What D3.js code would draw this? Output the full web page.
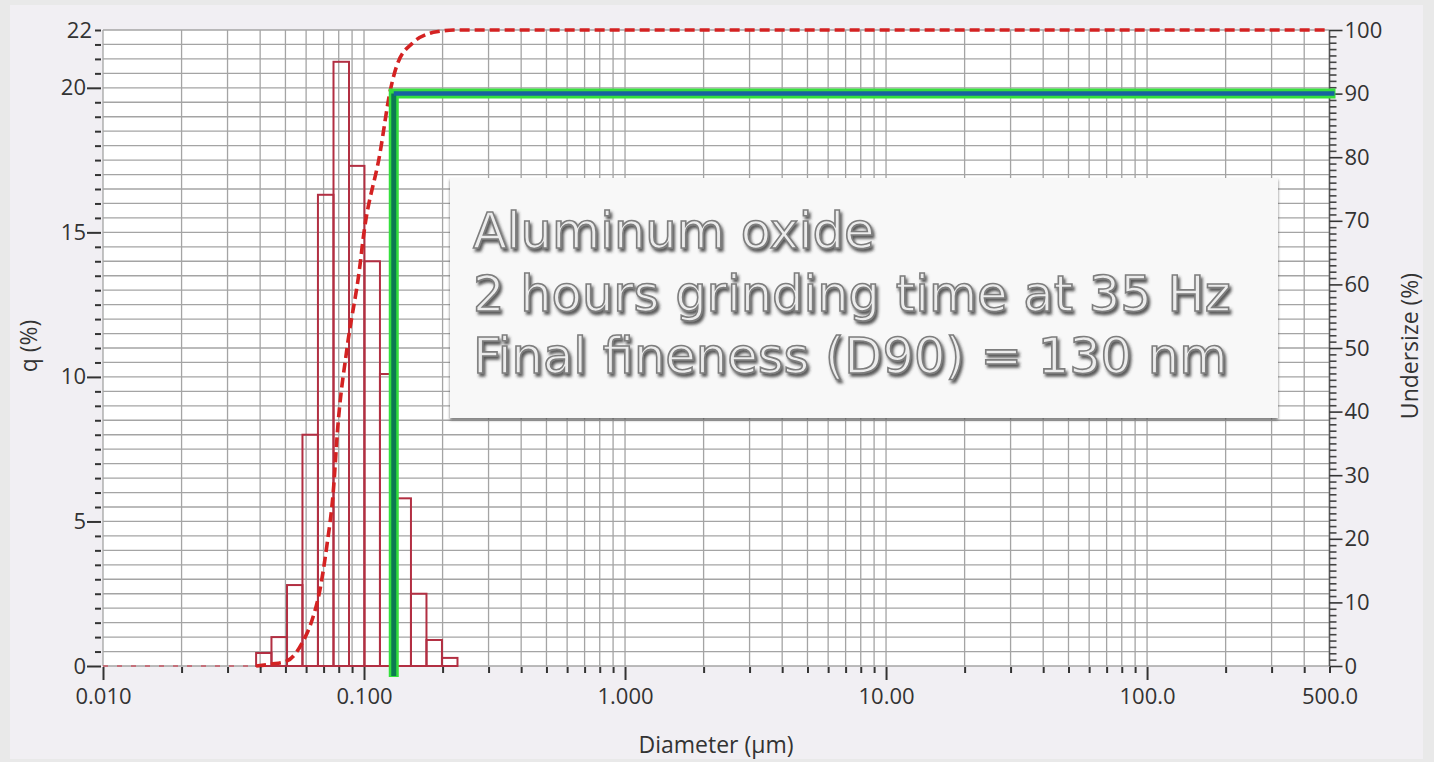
<!DOCTYPE html>
<html>
<head>
<meta charset="utf-8">
<script src="https://cdn.jsdelivr.net/npm/d3@7"></script>
<style>
  html, body { margin: 0; padding: 0; background: #e9e9e9; }
  svg { display: block; }
  .tick text { font-family: "Open Sans", sans-serif; fill: #333; }
</style>
</head>
<body>
<svg id="chart" width="1434" height="762"></svg>
<script>
// histogram bins (µm) and density q (%)
const binEdges = [0.0386, 0.0442, 0.0507, 0.0581, 0.0666, 0.0764, 0.0876, 0.1004, 0.1151, 0.1320, 0.1513, 0.1735, 0.1989, 0.2281];
const qValues = [0.45, 1.0, 2.8, 8.0, 16.3, 20.9, 17.3, 14.0, 10.1, 5.8, 2.5, 0.9, 0.28];

// cumulative undersize curve
const cumDiameter = [0.01, 0.035, 0.0386, 0.0442, 0.0507, 0.0579, 0.0632, 0.0678, 0.0721, 0.0761, 0.0795, 0.0861, 0.0965, 0.0991, 0.1152, 0.1258, 0.1338, 0.154, 0.179, 0.1955, 0.22, 500];
const cumUndersize = [0, 0, 0, 0.3, 0.8, 3.6, 7.2, 12, 19, 27, 38, 50, 63, 67, 80.7, 90.3, 94.5, 98, 99.5, 99.8, 100, 100];

const d90 = 0.13;
const d90Level = 90;

const xTickValues = [0.01, 0.1, 1, 10, 100, 500];
const xTickLabels = ["0.010", "0.100", "1.000", "10.00", "100.0", "500.0"];
const qTickValues = [0, 5, 10, 15, 20, 22];
const underTickValues = [0, 10, 20, 30, 40, 50, 60, 70, 80, 90, 100];

const noteLines = ["Aluminum oxide", "2 hours grinding time at 35 Hz", "Final fineness (D90) = 130 nm"];

const svg = d3.select("#chart");
const pL = 103, pR = 1329.5, pT = 30, pB = 666;

const x = d3.scaleLog().domain([0.01, 500]).range([pL, pR]);
const y = d3.scaleLinear().domain([0, 22]).range([pB, pT]);
const yR = d3.scaleLinear().domain([0, 100]).range([pB, pT]);

const defs = svg.append("defs");
const sh = defs.append("filter").attr("id", "txtShadow").attr("x", "-5%").attr("y", "-20%").attr("width", "110%").attr("height", "150%");
sh.append("feDropShadow").attr("dx", 2).attr("dy", 3).attr("stdDeviation", 1.8).attr("flood-color", "#333").attr("flood-opacity", 0.8);
const bsh = defs.append("filter").attr("id", "boxShadow").attr("x", "-5%").attr("y", "-5%").attr("width", "110%").attr("height", "115%");
bsh.append("feDropShadow").attr("dx", 0).attr("dy", 2).attr("stdDeviation", 1.5).attr("flood-color", "#555").attr("flood-opacity", 0.8);

// panel
svg.append("rect").attr("x", 10).attr("y", 5).attr("width", 1413).attr("height", 754).attr("fill", "#f1eff3");
svg.append("rect").attr("x", pL).attr("y", pT).attr("width", pR - pL).attr("height", pB - pT).attr("fill", "#fff");

// grid
const vGrid = [];
[0.01, 0.1, 1, 10, 100].forEach(d => { for (let k = 1; k <= 9; k++) { if (d * k <= 500) vGrid.push(d * k); } });
const hGrid = d3.range(0, 22.01, 0.5);

const grid = svg.append("g").attr("stroke", "#a4a4a4").attr("stroke-width", 1.3);
grid.selectAll("line.v").data(vGrid).join("line").attr("class", "v")
  .attr("x1", d => x(d)).attr("x2", d => x(d)).attr("y1", pT).attr("y2", pB);
grid.selectAll("line.h").data(hGrid).join("line").attr("class", "h")
  .attr("x1", pL).attr("x2", pR).attr("y1", d => y(d)).attr("y2", d => y(d));

// histogram
const bins = qValues.map((q, i) => ({ x0: binEdges[i], x1: binEdges[i + 1], q: q }));
svg.append("g").selectAll("rect").data(bins).join("rect")
  .attr("x", d => x(d.x0)).attr("width", d => x(d.x1) - x(d.x0))
  .attr("y", d => y(d.q)).attr("height", d => y(0) - y(d.q))
  .attr("fill", "none").attr("stroke", "#b22f42").attr("stroke-width", 2);

// cumulative curve: flat lead-in drawn fainter, rising part bold dashed
const cum = cumDiameter.map((d, i) => [d, cumUndersize[i]]);
const cumLine = d3.line().x(d => x(d[0])).y(d => yR(d[1])).curve(d3.curveMonotoneX);
svg.append("path").datum(cum.filter(d => d[0] <= 0.0386))
  .attr("d", cumLine)
  .attr("fill", "none").attr("stroke", "#c4707a").attr("stroke-width", 2).attr("stroke-dasharray", "5,9");
svg.append("path").datum(cum.filter(d => d[0] >= 0.0386))
  .attr("d", cumLine)
  .attr("fill", "none").attr("stroke", "#d42222").attr("stroke-width", 3.6).attr("stroke-dasharray", "10,5");

// axes
const xAxis = svg.append("g").attr("transform", `translate(0,${pB + 1})`)
  .call(d3.axisBottom(x).tickValues(xTickValues).tickSize(13).tickPadding(8).tickFormat((d, i) => xTickLabels[i]));
xAxis.select(".domain").remove();
xAxis.selectAll(".tick line").attr("stroke", "#333").attr("stroke-width", 2);
xAxis.selectAll(".tick").filter(d => d === 500).select("line").attr("y2", 6);
xAxis.selectAll("text").style("font-size", "22px");

const xMinor = svg.append("g").attr("transform", `translate(0,${pB + 1})`)
  .call(d3.axisBottom(x).tickValues(vGrid.filter(d => xTickValues.indexOf(d) < 0)).tickSize(6).tickFormat(""));
xMinor.select(".domain").remove();
xMinor.selectAll(".tick line").attr("stroke", "#333").attr("stroke-width", 2);

const yAxis = svg.append("g").attr("transform", `translate(${pL - 2},0)`)
  .call(d3.axisLeft(y).tickValues(qTickValues).tickSize(14).tickPadding(1));
yAxis.select(".domain").remove();
yAxis.selectAll(".tick line").attr("stroke", "#333").attr("stroke-width", 2);
yAxis.selectAll(".tick").filter(d => d === 22).select("line").attr("x2", -6);
yAxis.selectAll(".tick").filter(d => d === 22).select("text").attr("x", -9);
yAxis.selectAll("text").style("font-size", "22px");

const yMinor = svg.append("g").attr("transform", `translate(${pL - 2},0)`)
  .call(d3.axisLeft(y).tickValues(hGrid.filter(d => qTickValues.indexOf(d) < 0)).tickSize(6).tickFormat(""));
yMinor.select(".domain").remove();
yMinor.selectAll(".tick line").attr("stroke", "#333").attr("stroke-width", 2);

const yRAxis = svg.append("g").attr("transform", `translate(${pR},0)`)
  .call(d3.axisRight(yR).tickValues(underTickValues).tickSize(13).tickPadding(2));
yRAxis.select(".domain").attr("stroke", "#555").attr("stroke-width", 1.5).attr("d", `M0,${pB}V${pT}`);
yRAxis.selectAll(".tick line").attr("stroke", "#333").attr("stroke-width", 1.6);
yRAxis.selectAll("text").style("font-size", "22px");

const yRMinor = svg.append("g").attr("transform", `translate(${pR},0)`)
  .call(d3.axisRight(yR).tickValues(d3.range(0, 101, 1).filter(d => d % 10 !== 0)).tickSize(7).tickFormat(""));
yRMinor.select(".domain").remove();
yRMinor.selectAll(".tick line").attr("stroke", "#444").attr("stroke-width", 1.6);

// axis titles
const titleFont = { family: "Open Sans, sans-serif", size: "23px" };
svg.append("text").attr("x", 716).attr("y", 753).attr("text-anchor", "middle")
  .style("font-family", titleFont.family).style("font-size", titleFont.size).attr("fill", "#333").text("Diameter (µm)");
svg.append("text").attr("transform", "translate(28,346) rotate(-90)").attr("text-anchor", "middle").attr("dominant-baseline", "central")
  .style("font-family", titleFont.family).style("font-size", titleFont.size).attr("fill", "#333").text("q (%)");
svg.append("text").attr("transform", "translate(1409,346) rotate(-90)").attr("text-anchor", "middle").attr("dominant-baseline", "central")
  .style("font-family", titleFont.family).style("font-size", titleFont.size).attr("fill", "#333").text("Undersize (%)");

// D90 marker
const d90Path = `M${x(d90)},${pB + 11}V${yR(d90Level)}H${pR + 6}`;
svg.append("path").attr("d", d90Path).attr("fill", "none").attr("stroke", "#35e03c").attr("stroke-width", 10);
svg.append("path").attr("d", `M${x(d90)},${pB + 10}V${yR(d90Level)}`).attr("fill", "none").attr("stroke", "#0c7a52").attr("stroke-width", 5);
svg.append("path").attr("d", `M${x(d90)},${yR(d90Level)}H${pR + 5}`).attr("fill", "none").attr("stroke", "#1762a0").attr("stroke-width", 4.5);

// note box
svg.append("rect").attr("x", 450).attr("y", 178).attr("width", 828).attr("height", 240)
  .attr("fill", "#f8f8f8").attr("filter", "url(#boxShadow)");
svg.append("g").selectAll("text").data(noteLines).join("text")
  .attr("x", 473).attr("y", (d, i) => 248 + i * 62.5)
  .style("font-family", "DejaVu Sans, Verdana, sans-serif").style("font-size", "49.5px")
  .attr("fill", "#ececec").attr("stroke", "#7e7e7e").attr("stroke-width", 1.6)
  .attr("filter", "url(#txtShadow)")
  .text(d => d);
</script>
</body>
</html>
